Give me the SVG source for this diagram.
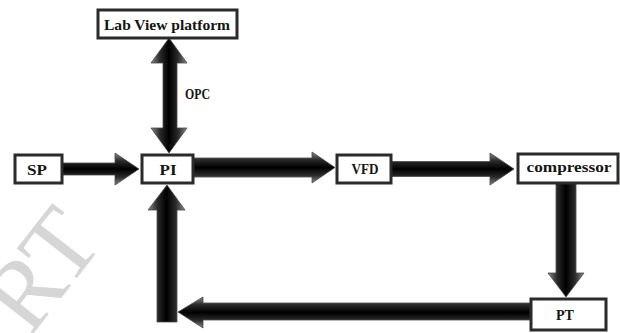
<svg xmlns="http://www.w3.org/2000/svg" width="620" height="333" viewBox="0 0 620 333">
<defs>
<linearGradient id="gh" x1="0" y1="0" x2="0" y2="1">
<stop offset="0" stop-color="#8a8a8a"/>
<stop offset="0.25" stop-color="#2a2a2a"/>
<stop offset="0.5" stop-color="#000"/>
<stop offset="0.75" stop-color="#2a2a2a"/>
<stop offset="1" stop-color="#8a8a8a"/>
</linearGradient>
<linearGradient id="gv" x1="0" y1="0" x2="1" y2="0">
<stop offset="0" stop-color="#8a8a8a"/>
<stop offset="0.25" stop-color="#2a2a2a"/>
<stop offset="0.5" stop-color="#000"/>
<stop offset="0.75" stop-color="#2a2a2a"/>
<stop offset="1" stop-color="#8a8a8a"/>
</linearGradient>
</defs>
<style>
.box{fill:#fff;stroke:#2b2b2b;stroke-width:3}
.lbl{font-family:"Liberation Serif","DejaVu Serif",serif;font-weight:bold;font-size:15px;fill:#141414;text-anchor:middle}
.ah{fill:url(#gh);stroke:#4a4a4a;stroke-width:0.8}
.av{fill:url(#gv);stroke:#4a4a4a;stroke-width:0.8}
.wm{font-family:"Liberation Serif",serif;font-size:100px;fill:#d6d6d6}
</style>
<rect width="620" height="333" fill="#fff"/>
<text class="wm" transform="translate(30,338) rotate(-52)">RT</text>
<g id="connectors">
<polygon class="av" points="169,38 187,63 177,63 177,128 187,128 169,153 151,128 163,128 163,63 151,63"/>
<polygon class="ah" points="62,163 115,163 115,153 139,169 115,185 115,175 62,175"/>
<polygon class="ah" points="193,158 312,158 312,152 335,167.5 312,183 312,177 193,177"/>
<polygon class="ah" points="391,161.5 490,161.5 490,153 514,169 490,185 490,176.5 391,176.5"/>
<polygon class="av" points="556,183 576,183 576,273 584,273 566,297 548,273 556,273"/>
<polygon class="ah" points="531,303 203,303 203,297 178,312 203,328 203,320 531,320"/>
<polygon class="av" points="157,322 157,210 148,210 167,185 185,210 177,210 177,322"/>
<text class="lbl" x="197.5" y="99" font-size="12.5" textLength="25" lengthAdjust="spacingAndGlyphs">OPC</text>
</g>
<g id="labview">
<rect class="box" x="98" y="10" width="139" height="28"/>
<text class="lbl" x="167" y="30" textLength="126" lengthAdjust="spacingAndGlyphs">Lab View platform</text>
</g>
<g id="sp">
<rect class="box" x="15" y="155" width="47" height="28"/>
<text class="lbl" x="37" y="175" textLength="20" lengthAdjust="spacingAndGlyphs">SP</text>
</g>
<g id="pi">
<rect class="box" x="142" y="155" width="51" height="28"/>
<text class="lbl" x="168" y="175" textLength="17" lengthAdjust="spacingAndGlyphs">PI</text>
</g>
<g id="vfd">
<rect class="box" x="337" y="155" width="54" height="28"/>
<text class="lbl" x="365" y="174" textLength="27" lengthAdjust="spacingAndGlyphs">VFD</text>
</g>
<g id="compressor">
<rect class="box" x="518" y="154" width="100" height="29"/>
<text class="lbl" x="569" y="172" textLength="85" lengthAdjust="spacingAndGlyphs">compressor</text>
</g>
<g id="pt">
<rect class="box" x="531" y="299" width="75" height="31"/>
<text class="lbl" x="565" y="320" textLength="18" lengthAdjust="spacingAndGlyphs">PT</text>
</g>
</svg>
